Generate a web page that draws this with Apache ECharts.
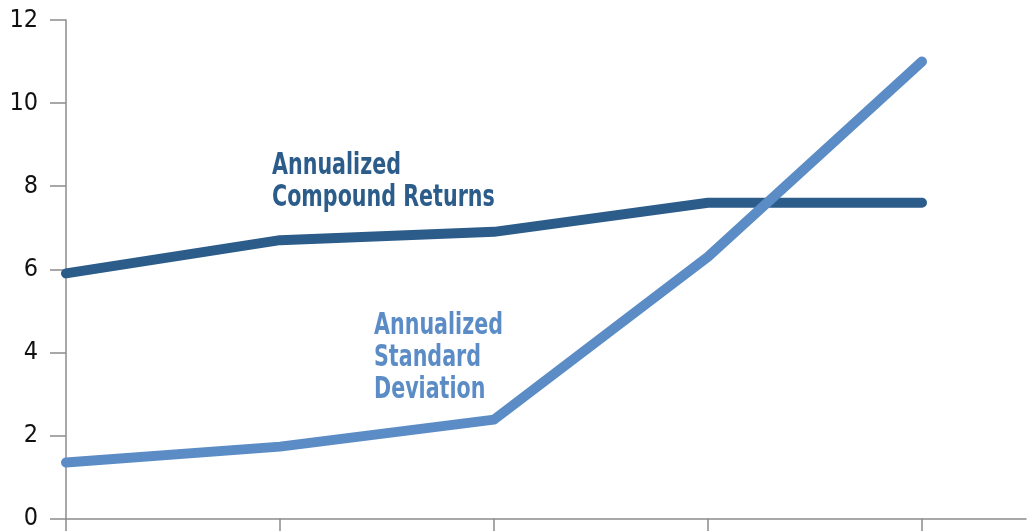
<!DOCTYPE html>
<html>
<head>
<meta charset="utf-8">
<script src="https://cdn.jsdelivr.net/npm/echarts@6/dist/echarts.min.js"></script>
<style>
  html, body { margin: 0; padding: 0; background: #fff; }
  #main { width: 1030px; height: 531px; }
</style>
</head>
<body>
<div id="main"></div>
<script>
const xPoints = [0, 1, 2, 3, 4];
const compoundReturns = [5.9, 6.7, 6.9, 7.6, 7.6];
const standardDeviation = [1.35, 1.73, 2.38, 6.3, 11.0];
const yTicks = [0, 2, 4, 6, 8, 10, 12];

const font = '"DejaVu Sans Condensed", "Liberation Sans Narrow", sans-serif';
const darkBlue = '#2c5c8a';
const lightBlue = '#5b8cc6';

const chart = echarts.init(document.getElementById('main'));
window.addEventListener('resize', () => chart.resize());

chart.setOption({
  animation: false,
  grid: { left: 66, right: 4, top: 20, bottom: 12, containLabel: false },
  xAxis: {
    type: 'value',
    min: 0,
    max: 4.486,
    interval: 1,
    splitLine: { show: false },
    axisLabel: { show: false },
    axisLine: { lineStyle: { color: '#8c8c8c', width: 1.5 } },
    axisTick: {
      show: true,
      length: 14,
      customValues: xPoints,
      lineStyle: { color: '#8c8c8c', width: 1.5 }
    }
  },
  yAxis: {
    type: 'value',
    min: yTicks[0],
    max: yTicks[yTicks.length - 1],
    interval: 2,
    splitLine: { show: false },
    axisLine: { show: true, lineStyle: { color: '#8c8c8c', width: 1.5 } },
    axisTick: { show: true, length: 16, lineStyle: { color: '#8c8c8c', width: 1.5 } },
    axisLabel: {
      color: '#111',
      fontFamily: font,
      fontSize: 25,
      margin: 28
    }
  },
  series: [
    {
      name: 'Annualized Compound Returns',
      type: 'line',
      data: xPoints.map((x, i) => [x, compoundReturns[i]]),
      symbol: 'none',
      lineStyle: { color: darkBlue, width: 10, cap: 'round', join: 'round' }
    },
    {
      name: 'Annualized Standard Deviation',
      type: 'line',
      data: xPoints.map((x, i) => [x, standardDeviation[i]]),
      symbol: 'none',
      lineStyle: { color: lightBlue, width: 10, cap: 'round', join: 'round' }
    }
  ],
  graphic: [
    {
      type: 'text',
      x: 272,
      y: 150,
      scaleX: 0.765,
      style: {
        text: 'Annualized\nCompound Returns',
        fill: darkBlue,
        font: 'bold 30px ' + font,
        lineHeight: 32
      }
    },
    {
      type: 'text',
      x: 374,
      y: 310,
      scaleX: 0.765,
      style: {
        text: 'Annualized\nStandard\nDeviation',
        fill: lightBlue,
        font: 'bold 30px ' + font,
        lineHeight: 32
      }
    }
  ]
});
</script>
</body>
</html>
